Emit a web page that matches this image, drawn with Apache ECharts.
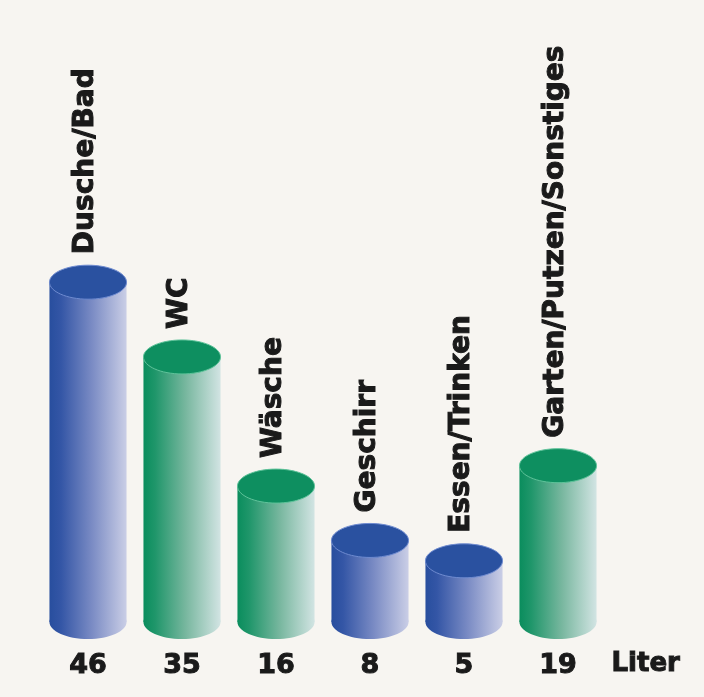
<!DOCTYPE html>
<html>
<head>
<meta charset="utf-8">
<script src="https://cdn.jsdelivr.net/npm/echarts@6/dist/echarts.min.js"></script>
<style>
  html, body { margin: 0; padding: 0; background: #f7f5f1; }
  #chart { width: 704px; height: 697px; }
</style>
</head>
<body>
<div id="chart"></div>
<script>
// Wasserverbrauch pro Kopf und Tag
const categories = ['Dusche/Bad', 'WC', 'Wäsche', 'Geschirr', 'Essen/Trinken', 'Garten/Putzen/Sonstiges']
const values = [46, 35, 16, 8, 5, 19]
const unitLabel = 'Liter'

// which colour each cylinder gets (blue / green)
const barTone = ['blue', 'green', 'green', 'blue', 'blue', 'green']
const tones = {
  blue: {
    top: '#2a51a0',
    rim: '#6f8bd0',
    stops: [
      { offset: 0, color: '#284e9e' },
      { offset: 0.15, color: '#3456a6' },
      { offset: 0.55, color: '#7a8bc4' },
      { offset: 1, color: '#cacee6' }
    ]
  },
  green: {
    top: '#0e8f60',
    rim: '#5fc39a',
    stops: [
      { offset: 0, color: '#0a8d5d' },
      { offset: 0.15, color: '#1f966a' },
      { offset: 0.55, color: '#78b79f' },
      { offset: 1, color: '#d2e4e3' }
    ]
  }
}

const yMin = -4
const yMax = 50
const labelFont = '"DejaVu Sans", "Liberation Sans", sans-serif'
const ink = '#1a1a1a'

const chart = echarts.init(document.getElementById('chart'))

chart.setOption({
  backgroundColor: '#f7f5f1',
  animation: false,
  grid: {
    left: 41,
    right: 99,
    top: 255,
    bottom: 75
  },
  xAxis: {
    type: 'category',
    data: categories,
    axisLine: { show: false },
    axisTick: { show: false },
    axisLabel: {
      margin: 30,
      fontSize: 27,
      fontWeight: 'bold',
      fontFamily: labelFont,
      color: ink,
      textBorderColor: ink,
      textBorderWidth: 1,
      formatter: (val, idx) => String(values[idx])
    }
  },
  yAxis: {
    type: 'value',
    min: yMin,
    max: yMax,
    show: false,
    splitLine: { show: false }
  },
  graphic: [{
    type: 'text',
    left: 611,
    top: 651,
    style: {
      text: unitLabel,
      fontSize: 26,
      fontWeight: 'bold',
      fontFamily: labelFont,
      fill: ink,
      stroke: ink,
      lineWidth: 1
    }
  }],
  series: [{
    type: 'custom',
    data: values.map((v, i) => [i, v]),
    encode: { x: 0, y: 1 },
    renderItem(params, api) {
      const i = api.value(0)
      const top = api.coord([i, api.value(1)])
      const base = api.coord([i, yMin])
      const w = api.size([1, 0])[0] * 0.82
      const rx = w / 2
      const ry = 17
      const tone = tones[barTone[i]]
      const grad = new echarts.graphic.LinearGradient(0, 0, 1, 0, tone.stops)
      return {
        type: 'group',
        children: [
          {
            type: 'rect',
            shape: { x: top[0] - rx, y: top[1], width: w, height: base[1] - top[1] },
            style: { fill: grad }
          },
          {
            type: 'ellipse',
            shape: { cx: top[0], cy: base[1], rx: rx, ry: ry },
            style: { fill: grad }
          },
          {
            type: 'ellipse',
            shape: { cx: top[0], cy: top[1], rx: rx, ry: ry },
            style: { fill: tone.top, stroke: tone.rim, lineWidth: 1 }
          },
          {
            type: 'text',
            x: top[0] - 2,
            y: top[1] - ry - 11,
            rotation: Math.PI / 2,
            style: {
              text: categories[i],
              fontSize: 28,
              fontWeight: 'bold',
              fontFamily: labelFont,
              fill: ink,
              stroke: ink,
              lineWidth: 1,
              align: 'left',
              verticalAlign: 'middle'
            }
          }
        ]
      }
    }
  }]
})
</script>
</body>
</html>
